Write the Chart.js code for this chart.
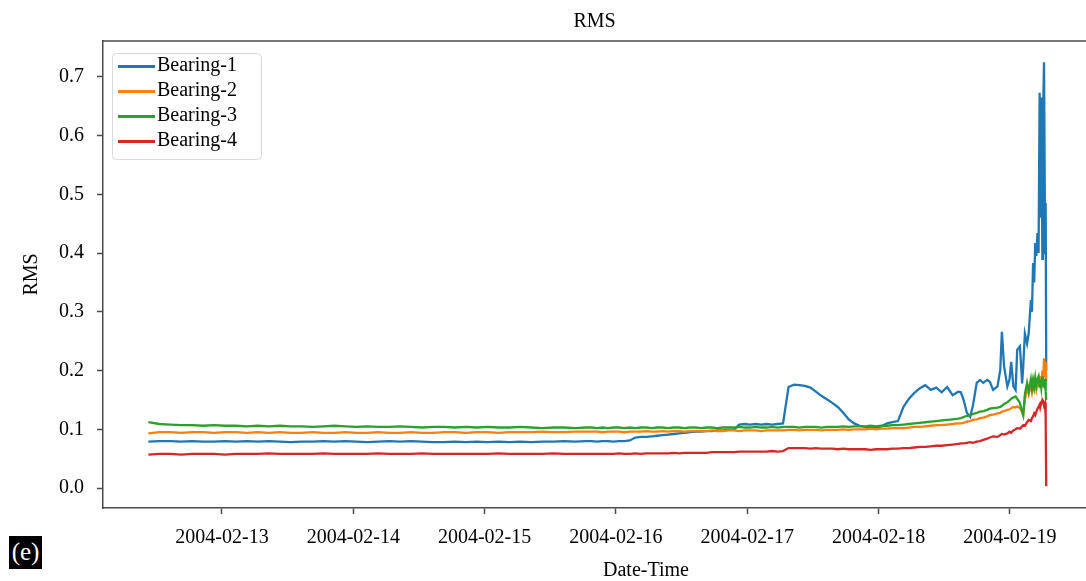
<!DOCTYPE html>
<html>
<head>
<meta charset="utf-8">
<script src="https://cdn.jsdelivr.net/npm/chart.js@4.4.1/dist/chart.umd.min.js"></script>
<style>
html,body{margin:0;padding:0;background:#fff;}
#wrap{position:relative;width:1086px;height:581px;overflow:hidden;}
#c{display:block;}
#xlab{position:absolute;left:646px;top:569px;transform:translate(-50%,-50%);font:20px 'Liberation Serif',serif;color:#000;white-space:nowrap;}
#tag{position:absolute;left:9px;top:536px;width:33px;height:33px;background:#000;color:#fff;font:25px 'Liberation Serif',serif;line-height:32px;text-align:center;}
</style>
</head>
<body>
<div id="wrap">
<canvas id="c" width="1086" height="581" style="width:1086px;height:581px"></canvas>
<div id="xlab">Date-Time</div>
<div id="tag">(e)</div>
</div>
<script>
// ---- data ----
const testStart = '2004-02-12T10:32:39Z';
const axisOrigin = '2004-02-12T00:00:00Z';
const xRange = ['2004-02-12T02:15:00Z', '2004-02-19T13:55:00Z'];
const yRange = [-0.034, 0.761];
const xTickLabels = ['2004-02-13','2004-02-14','2004-02-15','2004-02-16','2004-02-17','2004-02-18','2004-02-19'];
const yTickValues = [0.0,0.1,0.2,0.3,0.4,0.5,0.6,0.7];
const seriesNames = ['Bearing-1','Bearing-2','Bearing-3','Bearing-4'];
const seriesColors = ['#1f77b4','#ff7f0e','#2ca02c','#d62728'];

// hours since test start
const hoursFromStart = [
0,2,4,6,8,10,12,14,16,18,20,22,24,26,28,30,32,34,36,38,40,42,44,46,48,50,52,54,56,58,60,62,64,66,68,70,72,74,76,78,80,
81,82,83,84,85,86,87,88,89,90,91,92,93,94,95,96,97,98,99,100,101,102,103,104,105,106,107,108,109,110,
111,112,113,114,115,116,117,118,119,120,121,122,123,124,125,126,127,128,129,130,131,132,133,134,135,136,137,138,139,140,
141,142,143,144,145,146,147,148,
148.5,149,149.6,150.2,150.7,151.4,152.0,152.6,153.3,153.8,154.4,155.2,155.7,156.0,156.4,157.0,157.4,157.7,158.1,158.5,
158.8,159.3,159.7,159.9,160.2,160.6,160.9,161.3,161.5,161.7,161.9,162.1,162.3,162.5,162.7,162.9,163.0,163.2,163.4,163.5,
163.7,163.9,164.0,164.1
];

const bearing1 = [
0.079,0.080,0.080,0.079,0.080,0.079,0.079,0.080,0.079,0.080,
0.079,0.080,0.079,0.078,0.079,0.079,0.080,0.079,0.080,0.079,
0.078,0.079,0.080,0.079,0.080,0.079,0.078,0.078,0.079,0.078,
0.079,0.078,0.079,0.078,0.079,0.078,0.079,0.079,0.080,0.079,
0.080,
0.080,0.079,0.080,0.080,0.079,0.080,0.080,0.081,0.086,0.087,
0.087,0.088,0.089,0.090,0.091,0.092,0.093,0.094,0.095,0.096,
0.096,0.097,0.097,0.098,0.098,0.099,0.099,0.108,0.109,0.108,
0.109,0.108,0.109,0.108,0.109,0.110,0.172,0.176,0.175,0.174,
0.171,0.164,0.157,0.151,0.145,0.138,0.128,0.117,0.110,0.106,
0.104,0.103,0.103,0.105,0.110,0.112,0.114,0.138,0.152,0.162,
0.170,0.175,0.167,0.171,0.163,0.172,0.158,0.164,
0.163,0.150,0.128,0.121,0.140,0.179,0.184,0.179,0.184,0.181,
0.167,0.173,0.201,0.266,0.207,0.173,0.185,0.215,0.173,0.167,
0.235,0.241,0.178,0.207,0.263,0.246,0.263,0.320,0.300,0.383,
0.350,0.417,0.395,0.434,0.400,0.673,0.460,0.665,0.390,0.620,
0.725,0.400,0.485,0.200
];

const bearing2 = [
0.093,0.095,0.095,0.094,0.095,0.095,0.094,0.095,0.095,0.094,
0.095,0.094,0.095,0.094,0.094,0.095,0.094,0.094,0.095,0.094,
0.094,0.095,0.094,0.094,0.095,0.094,0.094,0.095,0.095,0.094,
0.095,0.095,0.094,0.095,0.095,0.095,0.096,0.095,0.095,0.096,
0.096,
0.096,0.096,0.095,0.096,0.096,0.096,0.095,0.096,0.096,0.096,
0.097,0.096,0.096,0.097,0.096,0.097,0.097,0.096,0.097,0.097,
0.097,0.097,0.098,0.097,0.097,0.098,0.098,0.097,0.098,0.098,
0.098,0.097,0.098,0.098,0.098,0.098,0.099,0.099,0.098,0.099,
0.099,0.099,0.098,0.099,0.099,0.099,0.100,0.099,0.100,0.100,
0.100,0.101,0.100,0.101,0.101,0.102,0.102,0.102,0.103,0.104,
0.104,0.105,0.106,0.107,0.107,0.108,0.109,0.110,
0.110,0.111,0.113,0.114,0.116,0.117,0.119,0.120,0.122,0.124,
0.125,0.127,0.128,0.130,0.131,0.133,0.134,0.136,0.138,0.137,
0.139,0.136,0.130,0.124,0.150,0.172,0.160,0.178,0.165,0.180,
0.170,0.182,0.168,0.178,0.185,0.170,0.190,0.175,0.200,0.180,
0.221,0.190,0.215,0.180
];

const bearing3 = [
0.112,0.109,0.108,0.107,0.107,0.106,0.107,0.106,0.106,0.105,
0.106,0.105,0.106,0.105,0.105,0.104,0.105,0.106,0.105,0.104,
0.105,0.104,0.104,0.105,0.104,0.103,0.104,0.104,0.103,0.104,
0.103,0.104,0.103,0.103,0.104,0.103,0.102,0.103,0.103,0.102,
0.103,
0.103,0.102,0.103,0.102,0.103,0.103,0.102,0.103,0.102,0.103,
0.103,0.102,0.103,0.103,0.102,0.103,0.103,0.102,0.103,0.103,
0.102,0.103,0.103,0.102,0.103,0.103,0.103,0.104,0.103,0.103,
0.104,0.103,0.103,0.104,0.103,0.104,0.104,0.104,0.103,0.104,
0.104,0.104,0.103,0.104,0.104,0.104,0.105,0.104,0.105,0.105,
0.105,0.106,0.105,0.106,0.106,0.107,0.107,0.108,0.109,0.110,
0.111,0.112,0.113,0.114,0.115,0.116,0.117,0.118,
0.119,0.121,0.123,0.124,0.126,0.128,0.130,0.131,0.133,0.135,
0.136,0.137,0.138,0.140,0.143,0.146,0.149,0.152,0.154,0.156,
0.152,0.145,0.130,0.124,0.160,0.179,0.165,0.185,0.170,0.184,
0.172,0.188,0.175,0.185,0.190,0.172,0.185,0.170,0.190,0.176,
0.173,0.186,0.165,0.150
];

const bearing4 = [
0.057,0.058,0.058,0.057,0.058,0.058,0.058,0.057,0.058,0.058,
0.058,0.059,0.058,0.058,0.058,0.058,0.059,0.058,0.058,0.058,
0.058,0.059,0.058,0.058,0.058,0.059,0.058,0.058,0.058,0.058,
0.058,0.058,0.059,0.058,0.058,0.058,0.058,0.059,0.058,0.058,
0.058,
0.058,0.058,0.058,0.058,0.058,0.059,0.058,0.058,0.059,0.058,
0.059,0.059,0.059,0.059,0.059,0.060,0.059,0.060,0.060,0.060,
0.060,0.060,0.061,0.061,0.061,0.061,0.061,0.062,0.062,0.062,
0.062,0.062,0.062,0.063,0.062,0.063,0.068,0.068,0.068,0.068,
0.067,0.068,0.067,0.067,0.067,0.066,0.067,0.066,0.066,0.066,
0.066,0.065,0.066,0.066,0.066,0.067,0.067,0.068,0.068,0.069,
0.070,0.070,0.071,0.072,0.072,0.073,0.074,0.075,
0.076,0.076,0.077,0.078,0.077,0.079,0.080,0.082,0.084,0.086,
0.088,0.087,0.090,0.092,0.091,0.093,0.096,0.094,0.098,0.100,
0.102,0.101,0.105,0.107,0.106,0.112,0.116,0.114,0.119,0.122,
0.127,0.124,0.130,0.135,0.138,0.142,0.137,0.145,0.150,0.148,
0.140,0.145,0.120,0.003
];

const seriesValues = [bearing1, bearing2, bearing3, bearing4];

// ---- helpers ----
const FONT = "'Liberation Serif', 'Times New Roman', serif";
const AXIS_COLOR = '#4a4a4a';
const dayOf = s => (Date.parse(s) - Date.parse(axisOrigin)) / 864e5;
const startDay = dayOf(testStart);

function legendLine(color) {
  const c = document.createElement('canvas');
  c.width = 55; c.height = 3;
  const g = c.getContext('2d');
  g.fillStyle = color;
  g.fillRect(18, 0, 37, 3);
  return c;
}

const datasets = seriesNames.map((name, k) => ({
  label: name,
  data: hoursFromStart.map((h, i) => ({ x: startDay + h / 24, y: seriesValues[k][i] })),
  borderColor: seriesColors[k],
  backgroundColor: seriesColors[k],
  borderWidth: 2.3,
  pointRadius: 0,
  pointHoverRadius: 0,
  pointStyle: legendLine(seriesColors[k]),
  fill: false,
  tension: 0,
  order: seriesNames.length - k
}));

const decor = {
  id: 'decor',
  beforeDraw(chart) {
    const lg = chart.legend;
    if (!lg || !lg.legendHitBoxes || !lg.legendHitBoxes.length) return;
    const hb = lg.legendHitBoxes;
    const l = hb[0].left + 4, t = hb[0].top - 3;
    const r = Math.max(...hb.map(h => h.left + h.width)) + 24;
    const last = hb[hb.length - 1];
    const b = last.top + last.height + 8;
    const ctx = chart.ctx;
    ctx.save();
    ctx.beginPath();
    ctx.roundRect(l + 0.5, t + 0.5, r - l, b - t, 4);
    ctx.fillStyle = 'rgba(255,255,255,0.8)';
    ctx.fill();
    ctx.strokeStyle = '#d9d9d9';
    ctx.lineWidth = 1;
    ctx.stroke();
    ctx.restore();
  },
  afterDraw(chart) {
    const a = chart.chartArea, ctx = chart.ctx;
    ctx.save();
    ctx.strokeStyle = AXIS_COLOR;
    ctx.lineWidth = 1.5;
    ctx.beginPath();
    ctx.moveTo(a.left, a.top);
    ctx.lineTo(a.right, a.top);
    ctx.stroke();
    ctx.restore();
  }
};

new Chart(document.getElementById('c'), {
  type: 'line',
  data: { datasets },
  plugins: [decor],
  options: {
    responsive: false,
    animation: false,
    devicePixelRatio: 1,
    layout: { padding: 0 },
    events: [],
    plugins: {
      tooltip: { enabled: false },
      title: {
        display: true, text: 'RMS', fullSize: false, color: '#000',
        font: { family: FONT, size: 20, weight: 'normal' },
        padding: { top: 10, bottom: 7 }
      },
      legend: {
        position: 'chartArea', align: 'start',
        title: { display: true, text: '', font: { size: 5 }, padding: { top: 45, bottom: 0 } },
        labels: {
          usePointStyle: true, pointStyleWidth: 39, padding: 5, color: '#000',
          font: { family: FONT, size: 20 },
          sort: (a, b) => a.datasetIndex - b.datasetIndex
        }
      }
    },
    scales: {
      x: {
        type: 'linear',
        min: dayOf(xRange[0]), max: dayOf(xRange[1]),
        afterBuildTicks: s => { s.ticks = xTickLabels.map(l => ({ value: dayOf(l + 'T00:00:00Z') })); },
        afterFit: s => { s.height = 73; },
        ticks: {
          callback: (v, i) => xTickLabels[i],
          color: '#000', font: { family: FONT, size: 20 },
          padding: 12, maxRotation: 0, autoSkip: false
        },
        grid: { display: true, drawOnChartArea: false, drawTicks: true, tickLength: 6, tickColor: AXIS_COLOR, tickWidth: 1.5 },
        border: { display: true, color: AXIS_COLOR, width: 1.5 }
      },
      y: {
        type: 'linear',
        min: yRange[0], max: yRange[1],
        afterBuildTicks: s => { s.ticks = yTickValues.map(v => ({ value: v })); },
        afterFit: s => { s.width = 103; },
        ticks: {
          callback: v => Number(v).toFixed(1),
          color: '#000', font: { family: FONT, size: 20 }, padding: 13
        },
        title: {
          display: true, text: 'RMS', color: '#000',
          font: { family: FONT, size: 20 },
          padding: { top: 20, bottom: 0 }
        },
        grid: { display: true, drawOnChartArea: false, drawTicks: true, tickLength: 6, tickColor: AXIS_COLOR, tickWidth: 1.5 },
        border: { display: true, color: AXIS_COLOR, width: 1.5 }
      }
    }
  }
});
</script>
</body>
</html>
